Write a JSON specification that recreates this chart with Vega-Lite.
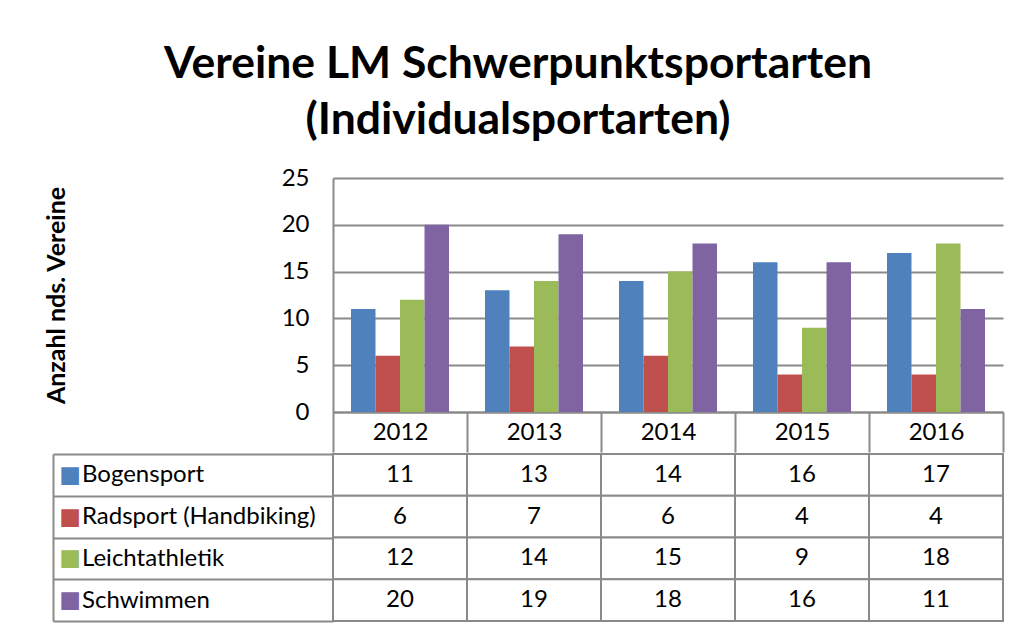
{
  "$schema": "https://vega.github.io/schema/vega-lite/v6.json",
  "padding": {"left": 44, "top": 41, "right": 10, "bottom": 5},
  "background": "white",
  "config": {
    "font": "Lato",
    "view": {"stroke": null},
    "axis": {"labelFont": "Lato", "titleFont": "Lato", "labelColor": "#000000", "titleColor": "#000000"}
  },
  "title": {
    "text": ["Vereine LM Schwerpunktsportarten", "(Individualsportarten)"],
    "font": "Lato",
    "fontSize": 44.5,
    "fontWeight": "bold",
    "lineHeight": 56,
    "color": "#000000",
    "anchor": "middle",
    "offset": 23,
    "dx": -6
  },
  "datasets": {
    "vereine": [
      {"year": "2012", "sport": "Bogensport", "value": 11},
      {"year": "2012", "sport": "Radsport (Handbiking)", "value": 6},
      {"year": "2012", "sport": "Leichtathletik", "value": 12},
      {"year": "2012", "sport": "Schwimmen", "value": 20},
      {"year": "2013", "sport": "Bogensport", "value": 13},
      {"year": "2013", "sport": "Radsport (Handbiking)", "value": 7},
      {"year": "2013", "sport": "Leichtathletik", "value": 14},
      {"year": "2013", "sport": "Schwimmen", "value": 19},
      {"year": "2014", "sport": "Bogensport", "value": 14},
      {"year": "2014", "sport": "Radsport (Handbiking)", "value": 6},
      {"year": "2014", "sport": "Leichtathletik", "value": 15},
      {"year": "2014", "sport": "Schwimmen", "value": 18},
      {"year": "2015", "sport": "Bogensport", "value": 16},
      {"year": "2015", "sport": "Radsport (Handbiking)", "value": 4},
      {"year": "2015", "sport": "Leichtathletik", "value": 9},
      {"year": "2015", "sport": "Schwimmen", "value": 16},
      {"year": "2016", "sport": "Bogensport", "value": 17},
      {"year": "2016", "sport": "Radsport (Handbiking)", "value": 4},
      {"year": "2016", "sport": "Leichtathletik", "value": 18},
      {"year": "2016", "sport": "Schwimmen", "value": 11}
    ]
  },
  "data": {"name": "vereine"},
  "spacing": -11,
  "vconcat": [
    {
      "width": 670,
      "height": 234,
      "mark": {"type": "bar"},
      "encoding": {
        "x": {
          "field": "year", "type": "nominal",
          "scale": {"paddingInner": 0, "paddingOuter": 0},
          "axis": {
            "title": null, "labelAngle": 0, "tickBand": "extent", "tickSize": 40,
            "tickColor": "#8a8a8a", "tickWidth": 2, "domainColor": "#8a8a8a", "domainWidth": 2,
            "labelFontSize": 24, "labelPadding": -20, "labelBaseline": "middle"
          }
        },
        "xOffset": {
          "field": "sport", "type": "nominal",
          "sort": ["Bogensport", "Radsport (Handbiking)", "Leichtathletik", "Schwimmen"],
          "scale": {"paddingInner": 0, "paddingOuter": 0.735}
        },
        "y": {
          "field": "value", "type": "quantitative",
          "scale": {"domain": [0, 25], "nice": false},
          "axis": {
            "values": [0, 5, 10, 15, 20, 25],
            "title": "Anzahl nds. Vereine", "titleFontSize": 25, "titleFontWeight": "bold",
            "titlePadding": 212,
            "grid": true, "gridColor": "#8a8a8a", "gridWidth": 2,
            "domainColor": "#8a8a8a", "domainWidth": 2, "ticks": false,
            "labelPadding": 24, "labelFontSize": 24
          }
        },
        "color": {
          "field": "sport", "type": "nominal",
          "sort": ["Bogensport", "Radsport (Handbiking)", "Leichtathletik", "Schwimmen"],
          "scale": {"range": ["#4F81BD", "#C0504D", "#9BBB59", "#8064A2"]},
          "legend": null
        }
      }
    },
    {
      "width": 670,
      "height": 167,
      "layer": [
        {
          "mark": {"type": "rect", "fill": "white", "stroke": "#8a8a8a", "strokeWidth": 2},
          "encoding": {
            "x": {"field": "year", "type": "nominal", "axis": null, "scale": {"paddingInner": 0, "paddingOuter": 0}},
            "y": {
              "field": "sport", "type": "nominal",
              "sort": ["Bogensport", "Radsport (Handbiking)", "Leichtathletik", "Schwimmen"],
              "scale": {"paddingInner": 0, "paddingOuter": 0},
              "axis": {
                "title": null, "orient": "left", "domain": false,
                "tickBand": "extent", "tickSize": 280, "tickColor": "#8a8a8a", "tickWidth": 2,
                "labelAlign": "left", "labelPadding": -28.5, "labelFontSize": 24,
                "labelBaseline": "middle", "labelLimit": 400
              }
            }
          }
        },
        {
          "mark": {"type": "text", "fontSize": 24, "font": "Lato", "color": "#000000"},
          "encoding": {
            "x": {"field": "year", "type": "nominal", "axis": null},
            "y": {
              "field": "sport", "type": "nominal",
              "sort": ["Bogensport", "Radsport (Handbiking)", "Leichtathletik", "Schwimmen"],
              "axis": {
                "title": null, "orient": "left", "offset": 280,
                "domain": true, "domainColor": "#8a8a8a", "domainWidth": 2,
                "ticks": false, "labelExpr": "'■'", "labelFont": "DejaVu Sans",
                "labelAlign": "center", "labelPadding": -16.5, "labelFontSize": 23,
                "labelBaseline": "middle",
                "labelColor": {
                  "condition": [
                    {"test": "datum.value === 'Bogensport'", "value": "#4F81BD"},
                    {"test": "datum.value === 'Radsport (Handbiking)'", "value": "#C0504D"},
                    {"test": "datum.value === 'Leichtathletik'", "value": "#9BBB59"}
                  ],
                  "value": "#8064A2"
                }
              }
            },
            "text": {"field": "value", "type": "quantitative"}
          }
        }
      ],
      "resolve": {"axis": {"y": "independent"}}
    }
  ]
}
